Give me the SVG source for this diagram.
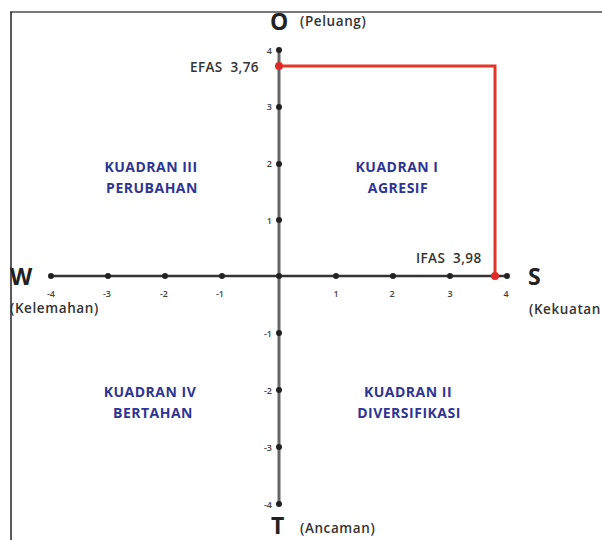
<svg xmlns="http://www.w3.org/2000/svg" width="602" height="540" viewBox="0 0 602 540">
<style>
.tick{font-size:9px;font-weight:600;fill:#444;font-family:"Open Sans","Liberation Sans",sans-serif}
.q{font-family:"Open Sans","Liberation Sans",sans-serif;font-size:14px;font-weight:700;fill:#2e3592;text-anchor:middle;letter-spacing:0.5px}
.big{font-family:"Open Sans","Liberation Sans",sans-serif;font-size:23px;font-weight:700;fill:#222}
.sub{font-family:"Open Sans","Liberation Sans",sans-serif;font-size:13.5px;font-weight:600;fill:#333;letter-spacing:0.6px}
.val{font-family:"Open Sans","Liberation Sans",sans-serif;font-size:13.5px;font-weight:600;fill:#333;letter-spacing:0.4px;white-space:pre}
.dot{fill:#222}
.rdot{fill:#e02a2a}
</style>
<rect width="602" height="540" fill="#fff"/>
<g id="frame">
<line x1="10" y1="12" x2="602" y2="12" stroke="#777" stroke-width="2"/>
<line x1="11" y1="12" x2="11" y2="540" stroke="#222" stroke-width="1.5"/>
</g>
<g id="connectors">
<line x1="279" y1="48" x2="279" y2="505" stroke="#666" stroke-width="3"/>
<line x1="50" y1="276" x2="508" y2="276" stroke="#333" stroke-width="2.5"/>
<polyline points="279,66 495,66 495,276" fill="none" stroke="#e53528" stroke-width="3"/>
</g>
<g id="x-ticks">
<circle class="dot" cx="51" cy="276" r="3"/>
<circle class="dot" cx="108" cy="276" r="3"/>
<circle class="dot" cx="165" cy="276" r="3"/>
<circle class="dot" cx="222" cy="276" r="3"/>
<circle class="dot" cx="279" cy="276" r="3"/>
<circle class="dot" cx="336" cy="276" r="3"/>
<circle class="dot" cx="393" cy="276" r="3"/>
<circle class="dot" cx="450" cy="276" r="3"/>
<circle class="dot" cx="507" cy="276" r="3"/>
<text class="tick" x="51" y="297" text-anchor="middle">-4</text>
<text class="tick" x="107" y="297" text-anchor="middle">-3</text>
<text class="tick" x="164" y="297" text-anchor="middle">-2</text>
<text class="tick" x="220" y="297" text-anchor="middle">-1</text>
<text class="tick" x="336" y="297" text-anchor="middle">1</text>
<text class="tick" x="392" y="297" text-anchor="middle">2</text>
<text class="tick" x="450" y="297" text-anchor="middle">3</text>
<text class="tick" x="506" y="297" text-anchor="middle">4</text>
</g>
<g id="y-ticks">
<circle class="dot" cx="279" cy="50" r="3"/>
<circle class="dot" cx="279" cy="107" r="3"/>
<circle class="dot" cx="279" cy="164" r="3"/>
<circle class="dot" cx="279" cy="220" r="3"/>
<circle class="dot" cx="279" cy="333" r="3"/>
<circle class="dot" cx="279" cy="390" r="3"/>
<circle class="dot" cx="279" cy="447" r="3"/>
<circle class="dot" cx="279" cy="504" r="3"/>
<text class="tick" x="272" y="54" text-anchor="end">4</text>
<text class="tick" x="272" y="110" text-anchor="end">3</text>
<text class="tick" x="272" y="167" text-anchor="end">2</text>
<text class="tick" x="272" y="224" text-anchor="end">1</text>
<text class="tick" x="272" y="337" text-anchor="end">-1</text>
<text class="tick" x="272" y="394" text-anchor="end">-2</text>
<text class="tick" x="272" y="451" text-anchor="end">-3</text>
<text class="tick" x="272" y="508" text-anchor="end">-4</text>
</g>
<g id="points">
<circle class="rdot" cx="279" cy="66" r="4"/>
<circle class="rdot" cx="495" cy="276" r="4"/>
<text class="val" x="190" y="72">EFAS  3,76</text>
<text class="val" x="416" y="263">IFAS  3,98</text>
</g>
<g id="label-O"><text class="big" x="270" y="30">O</text><text class="sub" x="300" y="26">(Peluang)</text></g>
<g id="label-W"><text class="big" x="10" y="285">W</text><text class="sub" x="10" y="313">(Kelemahan)</text></g>
<g id="label-S"><text class="big" x="528" y="285">S</text><text class="sub" x="529" y="314">(Kekuatan</text></g>
<g id="label-T"><text class="big" x="271" y="534">T</text><text class="sub" x="300" y="533">(Ancaman)</text></g>
<g id="q1"><text class="q" x="397" y="172">KUADRAN I</text><text class="q" x="398" y="193">AGRESIF</text></g>
<g id="q2"><text class="q" x="408" y="397">KUADRAN II</text><text class="q" x="409" y="418">DIVERSIFIKASI</text></g>
<g id="q3"><text class="q" x="151" y="172">KUADRAN III</text><text class="q" x="152" y="193">PERUBAHAN</text></g>
<g id="q4"><text class="q" x="150" y="397">KUADRAN IV</text><text class="q" x="153" y="418">BERTAHAN</text></g>
</svg>
